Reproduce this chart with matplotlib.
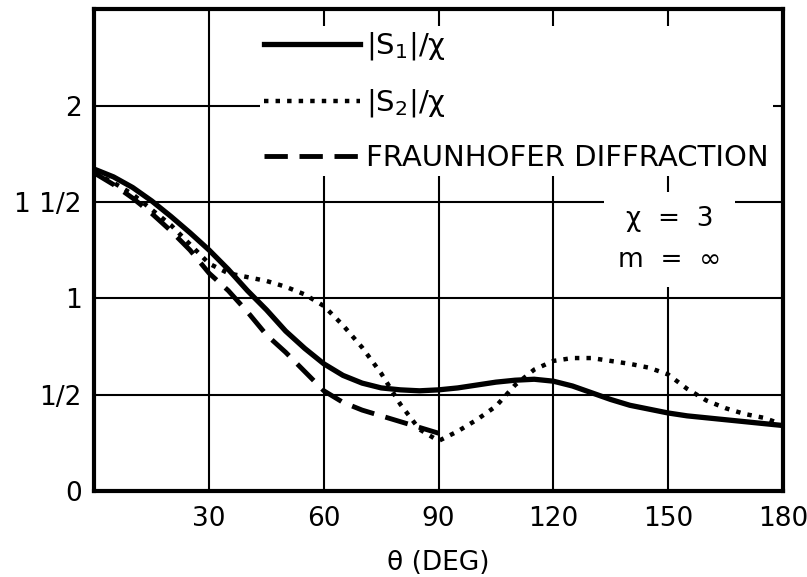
import matplotlib
matplotlib.use('Agg')
import matplotlib.pyplot as plt

plt.rcParams['font.family'] = ['DejaVu Sans']
plt.rcParams['mathtext.default'] = 'regular'

# scattering angle, degrees
theta = [0, 5, 10, 15, 20, 25, 30, 35, 40, 45, 50, 55, 60, 65, 70, 75, 80, 85, 90,
         95, 100, 105, 110, 115, 120, 125, 130, 135, 140, 145, 150, 155, 160, 165,
         170, 175, 180]

# |S1|/x
s1 = [1.67, 1.63, 1.575, 1.505, 1.425, 1.34, 1.25, 1.15, 1.04, 0.94, 0.83, 0.74, 0.66,
      0.60, 0.56, 0.535, 0.525, 0.52, 0.525, 0.535, 0.55, 0.565, 0.575, 0.58, 0.57,
      0.545, 0.51, 0.475, 0.445, 0.425, 0.405, 0.39, 0.38, 0.37, 0.36, 0.35, 0.34]

# |S2|/x
s2 = [1.65, 1.60, 1.54, 1.46, 1.38, 1.28, 1.18, 1.13, 1.11, 1.09, 1.06, 1.02, 0.96,
      0.86, 0.745, 0.61, 0.45, 0.32, 0.26, 0.31, 0.37, 0.44, 0.55, 0.63, 0.675,
      0.69, 0.69, 0.675, 0.66, 0.64, 0.605, 0.53, 0.47, 0.43, 0.40, 0.38, 0.345]

# fraunhofer diffraction, only out to 90 deg
theta_fr = [0, 5, 10, 15, 20, 25, 30, 35, 40, 45, 50, 55, 60, 65, 70, 75, 80, 85, 90]
fraun = [1.65, 1.59, 1.52, 1.44, 1.35, 1.25, 1.13, 1.04, 0.93, 0.81, 0.72, 0.62,
         0.52, 0.46, 0.42, 0.39, 0.36, 0.33, 0.30]

xticks = [30, 60, 90, 120, 150, 180]
yticks = [0, 0.5, 1, 1.5, 2]
ytick_labels = ['0', '1/2', '1', '1 1/2', '2']

fig = plt.figure(figsize=(8.07, 5.77), dpi=100)
ax = fig.add_axes([0.117, 0.149, 0.853, 0.835])

ax.plot(theta, s1, color='black', lw=3.8, label='|S$_1$|/χ', zorder=3)
ax.plot(theta, s2, color='black', lw=3.2, linestyle=(0, (1, 1.6)),
        label='|S$_2$|/χ', zorder=3)
ax.plot(theta_fr, fraun, color='black', lw=3.5, linestyle=(0, (4.8, 2.4)),
        label='FRAUNHOFER DIFFRACTION', zorder=3)

ax.set_xlim(0, 180)
ax.set_ylim(0, 2.5)
ax.set_xticks(xticks)
ax.set_yticks(yticks)
ax.set_yticklabels(ytick_labels)
ax.tick_params(axis='both', length=0, labelsize=19)
ax.tick_params(axis='x', pad=11)
ax.tick_params(axis='y', pad=9)
ax.grid(True, color='black', lw=1.5)
ax.set_axisbelow(True)
for sp in ax.spines.values():
    sp.set_linewidth(3)

ax.set_xlabel('θ (DEG)', fontsize=19, labelpad=13)

leg = ax.legend(loc='upper left', bbox_to_anchor=(0.24, 0.965), borderaxespad=0,
                fontsize=21, handlelength=3.3, handletextpad=0.2, borderpad=0.15,
                labelspacing=0.85, frameon=True, fancybox=False, framealpha=1)
leg.get_frame().set_edgecolor('white')
leg.get_frame().set_linewidth(0)
leg.set_zorder(5)

ax.text(150.4, 1.307, 'χ  =  3\nm  =  ∞', ha='center', va='center', fontsize=19,
        linespacing=1.75, zorder=5,
        bbox=dict(facecolor='white', edgecolor='none', pad=10))

fig.savefig('out.png', dpi=100)
